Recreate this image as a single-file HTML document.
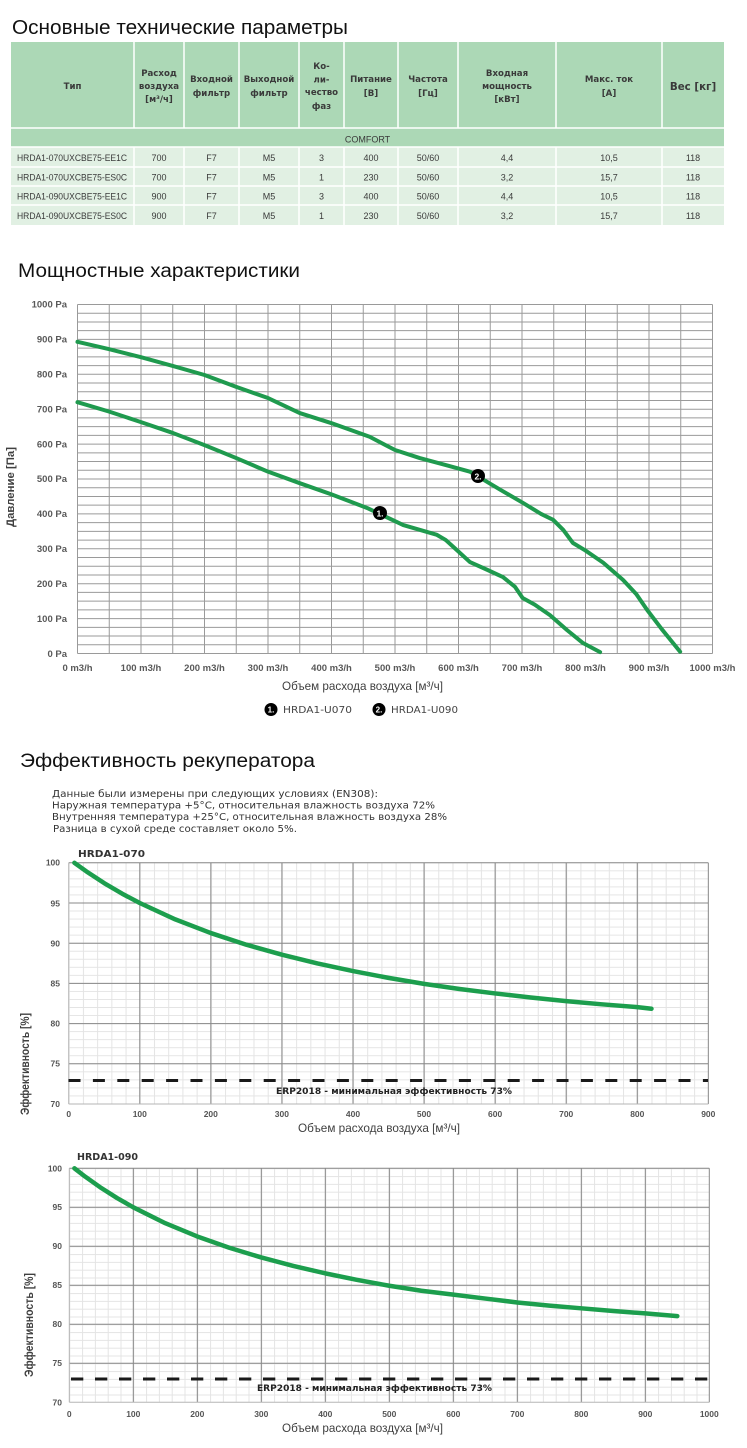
<!DOCTYPE html>
<html><head><meta charset="utf-8"><style>
html,body{margin:0;padding:0;background:#fff;}
svg{display:block;}
</style></head><body>
<svg width="747" height="1448" viewBox="0 0 747 1448" xmlns="http://www.w3.org/2000/svg" font-family="'Liberation Sans', sans-serif">
<defs>
<pattern id="m2" patternUnits="userSpaceOnUse" x="68.7" y="862.3" width="14.214" height="8.04"><path d="M0 0.5H14.214M0.5 0V8.04" stroke="#e4e4e4" stroke-width="1" fill="none"/></pattern>
<pattern id="m3" patternUnits="userSpaceOnUse" x="69.3" y="1168.3" width="12.8" height="7.8"><path d="M0 0.5H12.8M0.5 0V7.8" stroke="#e4e4e4" stroke-width="1" fill="none"/></pattern>
</defs>

<!-- ============ TITLE 1 ============ -->
<text x="12" y="34" font-size="20.5" fill="#111" textLength="336" lengthAdjust="spacingAndGlyphs">Основные технические параметры</text>

<!-- ============ TABLE ============ -->
<rect x="11" y="42" width="713" height="105" fill="#acd8b6"/>
<rect x="11" y="147" width="713" height="78" fill="#e1f0e3"/>
<g stroke="#fff" stroke-width="1.5">
<path d="M134 42V128M184 42V128M239 42V128M299 42V128M344 42V128M398 42V128M458 42V128M556 42V128M662 42V128"/>
<path d="M134 147V225M184 147V225M239 147V225M299 147V225M344 147V225M398 147V225M458 147V225M556 147V225M662 147V225"/>
<path d="M11 128H724M11 147H724M11 167H724M11 186H724M11 205H724"/>
</g>
<g font-family="'DejaVu Sans', sans-serif" font-weight="bold" font-size="8.6" fill="#3a3a3a" text-anchor="middle">
<text x="72.5" y="89">Тип</text>
<text x="159" y="76">Расход</text><text x="159" y="89">воздуха</text><text x="159" y="102">[м³/ч]</text>
<text x="211.5" y="82">Входной</text><text x="211.5" y="96">фильтр</text>
<text x="269" y="82">Выходной</text><text x="269" y="96">фильтр</text>
<text x="321.5" y="69">Ко-</text><text x="321.5" y="82.5">ли-</text><text x="321.5" y="95">чество</text><text x="321.5" y="109">фаз</text>
<text x="371" y="82">Питание</text><text x="371" y="96">[В]</text>
<text x="428" y="82">Частота</text><text x="428" y="96">[Гц]</text>
<text x="507" y="76">Входная</text><text x="507" y="89">мощность</text><text x="507" y="102">[кВт]</text>
<text x="609" y="82">Макс. ток</text><text x="609" y="96">[А]</text>
<text x="693" y="90" font-size="10.3">Вес [кг]</text>
</g>
<g font-size="9" fill="#3a3a3a" text-anchor="middle">
<text x="367.5" y="142.5">COMFORT</text>
<g text-anchor="start">
<text x="17" y="161" textLength="110" lengthAdjust="spacingAndGlyphs">HRDA1-070UXCBE75-EE1C</text>
<text x="17" y="180.5" textLength="110" lengthAdjust="spacingAndGlyphs">HRDA1-070UXCBE75-ES0C</text>
<text x="17" y="199.5" textLength="110" lengthAdjust="spacingAndGlyphs">HRDA1-090UXCBE75-EE1C</text>
<text x="17" y="219" textLength="110" lengthAdjust="spacingAndGlyphs">HRDA1-090UXCBE75-ES0C</text>
</g>
<text x="159" y="161">700</text><text x="211.5" y="161">F7</text><text x="269" y="161">M5</text><text x="321.5" y="161">3</text><text x="371" y="161">400</text><text x="428" y="161">50/60</text><text x="507" y="161">4,4</text><text x="609" y="161">10,5</text><text x="693" y="161">118</text>
<text x="159" y="180.5">700</text><text x="211.5" y="180.5">F7</text><text x="269" y="180.5">M5</text><text x="321.5" y="180.5">1</text><text x="371" y="180.5">230</text><text x="428" y="180.5">50/60</text><text x="507" y="180.5">3,2</text><text x="609" y="180.5">15,7</text><text x="693" y="180.5">118</text>
<text x="159" y="199.5">900</text><text x="211.5" y="199.5">F7</text><text x="269" y="199.5">M5</text><text x="321.5" y="199.5">3</text><text x="371" y="199.5">400</text><text x="428" y="199.5">50/60</text><text x="507" y="199.5">4,4</text><text x="609" y="199.5">10,5</text><text x="693" y="199.5">118</text>
<text x="159" y="219">900</text><text x="211.5" y="219">F7</text><text x="269" y="219">M5</text><text x="321.5" y="219">1</text><text x="371" y="219">230</text><text x="428" y="219">50/60</text><text x="507" y="219">3,2</text><text x="609" y="219">15,7</text><text x="693" y="219">118</text>
</g>

<!-- ============ TITLE 2 ============ -->
<text x="18" y="277" font-size="19" fill="#111" textLength="282" lengthAdjust="spacingAndGlyphs">Мощностные характеристики</text>

<!-- ============ CHART 1 ============ -->
<g transform="translate(77.5,653.5) scale(0.635,-0.349)">
<path vector-effect="non-scaling-stroke" stroke="#9a9a9a" stroke-width="1" fill="none" d="M0 0V1000M50 0V1000M100 0V1000M150 0V1000M200 0V1000M250 0V1000M300 0V1000M350 0V1000M400 0V1000M450 0V1000M500 0V1000M550 0V1000M600 0V1000M650 0V1000M700 0V1000M750 0V1000M800 0V1000M850 0V1000M900 0V1000M950 0V1000M1000 0V1000"/>
<path vector-effect="non-scaling-stroke" stroke="#9a9a9a" stroke-width="1" fill="none" d="M0 0H1000M0 25H1000M0 50H1000M0 75H1000M0 100H1000M0 125H1000M0 150H1000M0 175H1000M0 200H1000M0 225H1000M0 250H1000M0 275H1000M0 300H1000M0 325H1000M0 350H1000M0 375H1000M0 400H1000M0 425H1000M0 450H1000M0 475H1000M0 500H1000M0 525H1000M0 550H1000M0 575H1000M0 600H1000M0 625H1000M0 650H1000M0 675H1000M0 700H1000M0 725H1000M0 750H1000M0 775H1000M0 800H1000M0 825H1000M0 850H1000M0 875H1000M0 900H1000M0 925H1000M0 950H1000M0 975H1000M0 1000H1000"/>
<polyline vector-effect="non-scaling-stroke" stroke="#1f9a4e" stroke-width="4" stroke-linejoin="round" stroke-linecap="round" fill="none" points="0,720 50,693 100,663 150,632 200,597 250,560 300,521 350,488 400,456 456,417 476,400 513,368 566,340 580,325 594,302 618,262 645,240 670,219 689,191 701,159 720,140 744,110 771,67 796,30 823,4"/>
<polyline vector-effect="non-scaling-stroke" stroke="#1f9a4e" stroke-width="4" stroke-linejoin="round" stroke-linecap="round" fill="none" points="0,893 50,872 100,849 150,824 200,798 250,764 300,732 350,689 400,660 460,621 500,583 539,560 580,540 618,521 631,507 665,470 702,431 730,400 749,383 765,354 780,317 800,295 828,260 859,211 880,170 897,125 920,70 949,5"/>
</g>
<g fill="#000"><circle cx="380" cy="513" r="7"/><circle cx="478" cy="476" r="7"/></g>
<g fill="#fff" font-weight="bold" font-size="8.5" text-anchor="middle"><text x="380" y="516.5">1.</text><text x="478" y="479.5">2.</text></g>
<g font-weight="bold" font-size="9.5" fill="#595959" text-anchor="end">
<text x="67" y="307.5">1000 Pa</text><text x="67" y="342.5">900 Pa</text><text x="67" y="377.5">800 Pa</text><text x="67" y="412.5">700 Pa</text><text x="67" y="447.5">600 Pa</text><text x="67" y="482">500 Pa</text><text x="67" y="517">400 Pa</text><text x="67" y="552">300 Pa</text><text x="67" y="587">200 Pa</text><text x="67" y="622">100 Pa</text><text x="67" y="657">0 Pa</text>
</g>
<g font-weight="bold" font-size="9.5" fill="#595959" text-anchor="middle">
<text x="77.5" y="671">0 m3/h</text><text x="141" y="671">100 m3/h</text><text x="204.5" y="671">200 m3/h</text><text x="268" y="671">300 m3/h</text><text x="331.5" y="671">400 m3/h</text><text x="395" y="671">500 m3/h</text><text x="458.5" y="671">600 m3/h</text><text x="522" y="671">700 m3/h</text><text x="585.5" y="671">800 m3/h</text><text x="649" y="671">900 m3/h</text><text x="712.5" y="671">1000 m3/h</text>
</g>
<text transform="translate(14,487) rotate(-90)" text-anchor="middle" font-weight="bold" font-size="11" fill="#404040" textLength="80" lengthAdjust="spacingAndGlyphs">Давление [Па]</text>
<text x="282" y="690" font-size="12" fill="#404040" textLength="161" lengthAdjust="spacingAndGlyphs">Объем расхода воздуха [м³/ч]</text>
<!-- legend -->
<circle cx="271" cy="709.5" r="6.5" fill="#000"/><text x="271" y="712.5" fill="#fff" font-weight="bold" font-size="8" text-anchor="middle">1.</text>
<text x="283" y="713" font-family="'DejaVu Sans', sans-serif" font-size="10" fill="#444" textLength="69" lengthAdjust="spacingAndGlyphs">HRDA1-U070</text>
<circle cx="379" cy="709.5" r="6.5" fill="#000"/><text x="379" y="712.5" fill="#fff" font-weight="bold" font-size="8" text-anchor="middle">2.</text>
<text x="391" y="713" font-family="'DejaVu Sans', sans-serif" font-size="10" fill="#444" textLength="67" lengthAdjust="spacingAndGlyphs">HRDA1-U090</text>

<!-- ============ TITLE 3 ============ -->
<text x="20" y="767" font-size="19" fill="#111" textLength="295" lengthAdjust="spacingAndGlyphs">Эффективность рекуператора</text>
<g font-family="'DejaVu Sans', sans-serif" font-size="10" fill="#333">
<text x="52" y="797" textLength="326" lengthAdjust="spacingAndGlyphs">Данные были измерены при следующих условиях (EN308):</text>
<text x="52" y="808.5" textLength="383" lengthAdjust="spacingAndGlyphs">Наружная температура +5°C, относительная влажность  воздуха 72%</text>
<text x="52" y="820" textLength="395" lengthAdjust="spacingAndGlyphs">Внутренняя температура +25°C, относительная влажность воздуха 28%</text>
<text x="53" y="832" textLength="244" lengthAdjust="spacingAndGlyphs">Разница в сухой среде составляет около 5%.</text>
</g>

<!-- ============ CHART 2 ============ -->
<text x="78" y="857" font-family="'DejaVu Sans', sans-serif" font-weight="bold" font-size="10" fill="#333" textLength="67" lengthAdjust="spacingAndGlyphs">HRDA1-070</text>
<rect x="68.7" y="862.3" width="639.6" height="241.7" fill="url(#m2)"/>
<g transform="translate(68.7,1104) scale(0.7107,-8.04)">
<path vector-effect="non-scaling-stroke" stroke="#888" stroke-width="1" fill="none" d="M100 0V30M200 0V30M300 0V30M400 0V30M500 0V30M600 0V30M700 0V30M800 0V30M900 0V30M0 5H900M0 10H900M0 15H900M0 20H900M0 25H900M0 30H900"/>
<path vector-effect="non-scaling-stroke" stroke="#b5b5b5" stroke-width="1" fill="none" d="M0 0V30M0 0H900"/>
<polyline vector-effect="non-scaling-stroke" stroke="#1c9e4d" stroke-width="4.5" stroke-linejoin="round" stroke-linecap="round" fill="none" points="8,30 25,28.92 50,27.47 75,26.17 100,25 150,22.96 200,21.26 250,19.81 300,18.57 350,17.48 400,16.53 450,15.69 500,14.94 550,14.3 600,13.75 650,13.25 700,12.8 750,12.4 800,12.05 820,11.85"/>
</g>
<line x1="68.5" y1="1080.5" x2="708" y2="1080.5" stroke="#1a1a1a" stroke-width="3" stroke-dasharray="12 12.4"/>
<text x="276" y="1094" font-family="'DejaVu Sans', sans-serif" font-weight="bold" font-size="9" fill="#222" textLength="236" lengthAdjust="spacingAndGlyphs">ERP2018 - минимальная эффективность 73%</text>
<g font-weight="bold" font-size="8.5" fill="#555" text-anchor="end">
<text x="60" y="865.5">100</text><text x="60" y="906.5">95</text><text x="60" y="946.5">90</text><text x="60" y="986.5">85</text><text x="60" y="1026.5">80</text><text x="60" y="1066.5">75</text><text x="60" y="1107">70</text>
</g>
<g font-weight="bold" font-size="8.5" fill="#555" text-anchor="middle">
<text x="68.7" y="1117">0</text><text x="139.8" y="1117">100</text><text x="210.8" y="1117">200</text><text x="281.9" y="1117">300</text><text x="353" y="1117">400</text><text x="424" y="1117">500</text><text x="495.1" y="1117">600</text><text x="566.2" y="1117">700</text><text x="637.3" y="1117">800</text><text x="708.3" y="1117">900</text>
</g>
<text transform="translate(29,1064) rotate(-90)" text-anchor="middle" font-weight="bold" font-size="11.5" fill="#404040" textLength="102" lengthAdjust="spacingAndGlyphs">Эффективность  [%]</text>
<text x="298" y="1132" font-size="12" fill="#404040" textLength="162" lengthAdjust="spacingAndGlyphs">Объем расхода воздуха [м³/ч]</text>

<!-- ============ CHART 3 ============ -->
<text x="77" y="1160" font-family="'DejaVu Sans', sans-serif" font-weight="bold" font-size="10" fill="#333" textLength="61" lengthAdjust="spacingAndGlyphs">HRDA1-090</text>
<rect x="69.3" y="1168.3" width="640" height="234" fill="url(#m3)"/>
<g transform="translate(69.3,1402.3) scale(0.64,-7.8)">
<path vector-effect="non-scaling-stroke" stroke="#888" stroke-width="1" fill="none" d="M100 0V30M200 0V30M300 0V30M400 0V30M500 0V30M600 0V30M700 0V30M800 0V30M900 0V30M1000 0V30M0 5H1000M0 10H1000M0 15H1000M0 20H1000M0 25H1000M0 30H1000"/>
<path vector-effect="non-scaling-stroke" stroke="#b5b5b5" stroke-width="1" fill="none" d="M0 0V30M0 0H1000"/>
<polyline vector-effect="non-scaling-stroke" stroke="#1c9e4d" stroke-width="4.5" stroke-linejoin="round" stroke-linecap="round" fill="none" points="8,30 25,28.92 50,27.47 75,26.17 100,25 150,22.96 200,21.26 250,19.81 300,18.57 350,17.48 400,16.53 450,15.69 500,14.94 550,14.3 600,13.8 650,13.3 700,12.8 750,12.4 800,12.05 850,11.7 900,11.4 950,11.05"/>
</g>
<line x1="71" y1="1379" x2="709" y2="1379" stroke="#1a1a1a" stroke-width="3" stroke-dasharray="12.3 11.7"/>
<text x="257" y="1391" font-family="'DejaVu Sans', sans-serif" font-weight="bold" font-size="9" fill="#222" textLength="235" lengthAdjust="spacingAndGlyphs">ERP2018 - минимальная эффективность 73%</text>
<g font-weight="bold" font-size="8.5" fill="#555" text-anchor="end">
<text x="62" y="1171.5">100</text><text x="62" y="1210">95</text><text x="62" y="1249">90</text><text x="62" y="1288">85</text><text x="62" y="1327">80</text><text x="62" y="1366">75</text><text x="62" y="1405.5">70</text>
</g>
<g font-weight="bold" font-size="8.5" fill="#555" text-anchor="middle">
<text x="69.3" y="1417">0</text><text x="133.3" y="1417">100</text><text x="197.3" y="1417">200</text><text x="261.3" y="1417">300</text><text x="325.3" y="1417">400</text><text x="389.3" y="1417">500</text><text x="453.3" y="1417">600</text><text x="517.3" y="1417">700</text><text x="581.3" y="1417">800</text><text x="645.3" y="1417">900</text><text x="709.3" y="1417">1000</text>
</g>
<text transform="translate(33,1325) rotate(-90)" text-anchor="middle" font-weight="bold" font-size="11.5" fill="#404040" textLength="104" lengthAdjust="spacingAndGlyphs">Эффективность  [%]</text>
<text x="282" y="1432" font-size="12" fill="#404040" textLength="161" lengthAdjust="spacingAndGlyphs">Объем расхода воздуха [м³/ч]</text>
</svg>
</body></html>
